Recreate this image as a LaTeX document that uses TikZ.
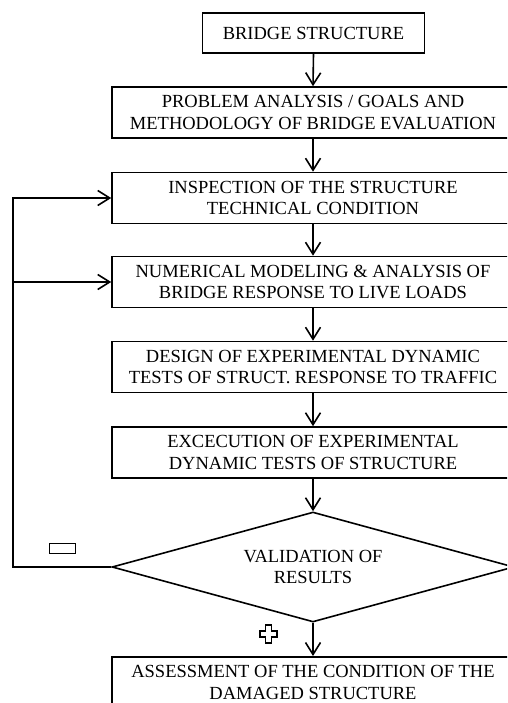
\documentclass[tikz,border=0pt]{standalone}
\usepackage{fontspec}
\setmainfont{Liberation Serif}
\usetikzlibrary{arrows.meta,shapes.geometric}
\begin{document}
\begin{tikzpicture}[x=1pt,y=-1pt,
  line width=1.6pt,
  every node/.style={font=\fontsize{18.5}{21.5}\selectfont, align=center, inner sep=0pt},
  stepbox/.style={draw, rectangle, minimum width=402pt, minimum height=51pt},
  decision/.style={draw, diamond, minimum width=402pt, minimum height=110pt, aspect=3.65},
  sign/.style={line width=1.4pt},
  arr/.style={-{Straight Barb[length=12pt,width=15pt,line width=1.6pt]}}]
  \useasboundingbox (0,0) rectangle (507,703);
  \clip (0,0) rectangle (507,703);
  \fill[white] (0,0) rectangle (507,703);

  % process chain
  \node[draw, rectangle, minimum width=222pt, minimum height=40pt] (bridge) at (313.5,33) {BRIDGE STRUCTURE};
  \node[stepbox] (problem) at (313,112.5) {PROBLEM ANALYSIS / GOALS AND\\METHODOLOGY OF BRIDGE EVALUATION};
  \node[stepbox] (insp) at (313,198) {INSPECTION OF THE STRUCTURE\\TECHNICAL CONDITION};
  \node[stepbox] (num) at (313,282) {NUMERICAL MODELING \& ANALYSIS OF\\BRIDGE RESPONSE TO LIVE LOADS};
  \node[stepbox] (design) at (313,367) {DESIGN OF EXPERIMENTAL DYNAMIC\\TESTS OF STRUCT. RESPONSE TO TRAFFIC};
  \node[stepbox] (exec) at (313,452.5) {EXCECUTION OF EXPERIMENTAL\\DYNAMIC TESTS OF STRUCTURE};
  \node[decision] (val) at (313,567) {VALIDATION OF\\RESULTS};
  \node[stepbox, anchor=north] (assess) at (313,656) {ASSESSMENT OF THE CONDITION OF THE\\DAMAGED STRUCTURE};

  % connectors
  \draw[arr] (bridge.south) -- (problem.north);
  \draw[arr] (problem.south) -- (insp.north);
  \draw[arr] (insp.south) -- (num.north);
  \draw[arr] (num.south) -- (design.north);
  \draw[arr] (design.south) -- (exec.north);
  \draw[arr] (exec.south) -- (val.north);
  \draw[arr] (val.south) -- (assess.north);

  % feedback loop
  \coordinate (fbtop) at (13,198);
  \draw[arr] (val.west) -| (fbtop) -- (insp.west);
  \draw[arr] (num.west -| fbtop) -- (num.west);

  % outlined minus and plus signs
  \draw[sign] (49.5,543.5) rectangle (75.5,553.5);
  \draw[sign]
    (265.5,625) -- (271.5,625) -- (271.5,631) -- (277,631) -- (277,637) -- (271.5,637)
    -- (271.5,643) -- (265.5,643) -- (265.5,637) -- (260,637) -- (260,631) -- (265.5,631) -- cycle;
\end{tikzpicture}
\end{document}
